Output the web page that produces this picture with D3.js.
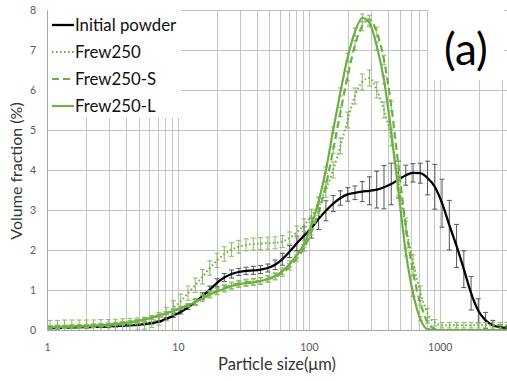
<!DOCTYPE html>
<html>
<head>
<meta charset="utf-8">
<script src="https://cdn.jsdelivr.net/npm/d3@7"></script>
<style>
  html, body { margin: 0; padding: 0; background: #fff; }
  svg { display: block; font-family: Lato, "Open Sans", sans-serif; }
</style>
</head>
<body>
<svg id="chart" width="507" height="381"></svg>
<script>
// Particle size bins (µm, geometric bin centres)
const sizes = [0.930, 1.056, 1.200, 1.363, 1.548, 1.759, 1.998, 2.271, 2.580, 2.931, 3.331, 3.784, 4.300, 4.885, 5.550, 6.306, 7.165, 8.140, 9.250, 10.51, 11.94, 13.56, 15.41, 17.51, 19.89, 22.60, 25.68, 29.17, 33.15, 37.66, 42.79, 48.62, 55.24, 62.76, 71.30, 81.01, 92.04, 104.6, 118.8, 135.0, 153.4, 174.3, 198.0, 225.0, 255.6, 290.4, 330.0, 374.9, 426.0, 484.0, 549.9, 624.8, 709.9, 806.5, 916.3, 1041, 1183, 1344, 1527, 1735, 1971, 2239, 2544, 2891, 3284];

// Volume fraction (%) and standard deviation per bin
const initialPowder = [0.04, 0.05, 0.05, 0.06, 0.06, 0.07, 0.07, 0.08, 0.08, 0.09, 0.10,
  0.11, 0.12, 0.13, 0.15, 0.17, 0.21, 0.28, 0.36, 0.45, 0.57,
  0.70, 0.85, 1.01, 1.18, 1.31, 1.40, 1.45, 1.48, 1.49, 1.51,
  1.55, 1.63, 1.77, 1.96, 2.17, 2.36, 2.55, 2.78, 2.98, 3.16,
  3.30, 3.39, 3.43, 3.46, 3.48, 3.51, 3.57, 3.65, 3.76, 3.87,
  3.93, 3.92, 3.80, 3.58, 3.17, 2.62, 2.10, 1.52, 0.92, 0.48,
  0.24, 0.12, 0.07, 0.05];
const initialPowderErr = [0.02, 0.02, 0.02, 0.02, 0.02, 0.02, 0.02, 0.02, 0.02, 0.02, 0.02,
  0.02, 0.02, 0.02, 0.02, 0.02, 0.02, 0.03, 0.04, 0.05, 0.06,
  0.07, 0.08, 0.09, 0.10, 0.10, 0.10, 0.09, 0.09, 0.10, 0.10,
  0.10, 0.12, 0.15, 0.15, 0.18, 0.22, 0.25, 0.27, 0.25, 0.20,
  0.18, 0.17, 0.17, 0.25, 0.35, 0.46, 0.54, 0.52, 0.46, 0.25,
  0.23, 0.25, 0.42, 0.56, 0.60, 0.62, 0.54, 0.46, 0.42, 0.30,
  0.20, 0.12, 0.06, 0.04];

const frew250 = [0.09, 0.09, 0.09, 0.10, 0.10, 0.10, 0.10, 0.10, 0.11, 0.11, 0.12,
  0.13, 0.14, 0.15, 0.17, 0.21, 0.28, 0.40, 0.55, 0.72, 0.92,
  1.12, 1.33, 1.55, 1.74, 1.90, 2.01, 2.08, 2.13, 2.15, 2.16,
  2.17, 2.18, 2.21, 2.30, 2.45, 2.62, 2.85, 3.15, 3.52, 4.00,
  4.60, 5.25, 5.85, 6.20, 6.30, 6.00, 5.50, 4.80, 3.70, 2.60,
  1.70, 0.95, 0.42, 0.18, 0.12, 0.12, 0.12, 0.12, 0.12, 0.12,
  0.12, 0.12, 0.12, 0.12];
const frew250Err = [0.15, 0.15, 0.15, 0.15, 0.15, 0.15, 0.15, 0.15, 0.15, 0.15, 0.15,
  0.15, 0.15, 0.15, 0.15, 0.15, 0.16, 0.17, 0.18, 0.18, 0.18,
  0.18, 0.18, 0.18, 0.18, 0.18, 0.17, 0.16, 0.15, 0.15, 0.15,
  0.15, 0.15, 0.15, 0.15, 0.15, 0.16, 0.17, 0.18, 0.20, 0.20,
  0.20, 0.20, 0.20, 0.20, 0.20, 0.20, 0.20, 0.20, 0.20, 0.20,
  0.18, 0.15, 0.12, 0.08, 0.07, 0.07, 0.07, 0.07, 0.07, 0.07,
  0.07, 0.07, 0.07, 0.07];

const frew250S = [0.06, 0.07, 0.08, 0.08, 0.09, 0.09, 0.10, 0.11, 0.12, 0.13, 0.15,
  0.17, 0.19, 0.22, 0.26, 0.31, 0.36, 0.42, 0.48, 0.55, 0.62,
  0.70, 0.80, 0.90, 0.98, 1.06, 1.12, 1.16, 1.19, 1.21, 1.23,
  1.27, 1.33, 1.42, 1.58, 1.80, 2.05, 2.45, 2.95, 3.62, 4.50,
  5.45, 6.35, 7.12, 7.60, 7.75, 7.45, 6.75, 5.60, 4.10, 2.60,
  1.45, 0.68, 0.20, 0.03, 0, 0, 0, 0, 0, 0,
  0, 0, 0, 0];
const frew250SErr = [0.04, 0.04, 0.04, 0.04, 0.04, 0.04, 0.04, 0.04, 0.04, 0.04, 0.04,
  0.04, 0.04, 0.04, 0.04, 0.04, 0.04, 0.04, 0.04, 0.04, 0.04,
  0.08, 0.08, 0.08, 0.08, 0.08, 0.08, 0.08, 0.08, 0.08, 0.08,
  0.08, 0.08, 0.08, 0.08, 0.08, 0.08, 0.08, 0.08, 0.08, 0.08,
  0.12, 0.12, 0.12, 0.12, 0.12, 0.12, 0.12, 0.12, 0.12, 0.12,
  0.10, 0.06, 0.03, 0, 0, 0, 0, 0, 0, 0,
  0, 0, 0, 0];

const frew250L = [0.06, 0.07, 0.08, 0.08, 0.09, 0.09, 0.10, 0.11, 0.12, 0.13, 0.15,
  0.17, 0.19, 0.22, 0.26, 0.31, 0.36, 0.42, 0.48, 0.55, 0.62,
  0.70, 0.79, 0.88, 0.96, 1.03, 1.10, 1.14, 1.17, 1.19, 1.22,
  1.28, 1.35, 1.47, 1.65, 1.88, 2.15, 2.62, 3.22, 4.00, 5.00,
  5.95, 6.82, 7.45, 7.80, 7.68, 7.10, 6.25, 4.95, 3.45, 1.95,
  0.92, 0.28, 0.02, 0, 0, 0, 0, 0, 0, 0,
  0, 0, 0, 0];
const frew250LErr = [0.04, 0.04, 0.04, 0.04, 0.04, 0.04, 0.04, 0.04, 0.04, 0.04, 0.04,
  0.04, 0.04, 0.04, 0.04, 0.04, 0.04, 0.04, 0.04, 0.04, 0.04,
  0.08, 0.08, 0.08, 0.08, 0.08, 0.08, 0.08, 0.08, 0.08, 0.08,
  0.08, 0.08, 0.08, 0.08, 0.08, 0.08, 0.08, 0.08, 0.08, 0.08,
  0.10, 0.10, 0.10, 0.10, 0.10, 0.10, 0.10, 0.10, 0.10, 0.10,
  0.08, 0.05, 0.02, 0, 0, 0, 0, 0, 0, 0,
  0, 0, 0, 0];

const seriesNames = ["Initial powder", "Frew250", "Frew250-S", "Frew250-L"];
const xTickLabels = [1, 10, 100, 1000];
const yTickLabels = [0, 1, 2, 3, 4, 5, 6, 7, 8];
const panelLabel = "(a)";

const GREEN = "#70ad47";
const series = [
  { name: seriesNames[0], values: initialPowder, err: initialPowderErr, color: "#000", width: 2.3, dash: null, errColor: "#555" },
  { name: seriesNames[1], values: frew250, err: frew250Err, color: GREEN, width: 2, dash: "1.6,2.4", errColor: "#86bd62" },
  { name: seriesNames[2], values: frew250S, err: frew250SErr, color: GREEN, width: 2.2, dash: "7,4", errColor: "#86bd62" },
  { name: seriesNames[3], values: frew250L, err: frew250LErr, color: GREEN, width: 2.2, dash: null, errColor: "#86bd62" }
];

const svg = d3.select("#chart");
const x = d3.scaleLog().domain([1, 3500]).range([47, 511]);
const y = d3.scaleLinear().domain([0, 8]).range([330, 10]);
const [x0, x1] = x.range();
const [yb, yt] = y.range();

// Grid lines: every log minor tick vertically, every unit horizontally
const grid = svg.append("g").attr("stroke", "#c4c4c4").attr("stroke-width", 1);
grid.selectAll("line.v").data(x.ticks()).join("line")
  .attr("x1", d => Math.round(x(d)) + 0.5).attr("x2", d => Math.round(x(d)) + 0.5)
  .attr("y1", yt).attr("y2", yb);
grid.selectAll("line.h").data(yTickLabels).join("line")
  .attr("x1", x0).attr("x2", 507)
  .attr("y1", d => Math.round(y(d)) + 0.5).attr("y2", d => Math.round(y(d)) + 0.5);

// Data layer, clipped to the plot area
svg.append("clipPath").attr("id", "plotClip")
  .append("rect").attr("x", x0).attr("y", yt - 2).attr("width", x1 - x0).attr("height", yb - yt + 3);
const plot = svg.append("g").attr("clip-path", "url(#plotClip)");

const line = d3.line()
  .x((d, i) => x(sizes[i]))
  .y(d => y(d))
  .curve(d3.curveMonotoneX);

series.forEach(s => {
  const g = plot.append("g");
  const bars = sizes.map((sz, i) => ({ sz, v: s.values[i], e: s.err[i] })).filter(d => d.e > 0);
  const eb = g.append("g").attr("stroke", s.errColor).attr("stroke-width", 1).attr("fill", "none");
  eb.selectAll("path").data(bars).join("path")
    .attr("d", d => {
      const px = x(d.sz), top = y(d.v + d.e), bot = y(d.v - d.e), c = 2.5;
      return `M${px},${top}V${bot}M${px - c},${top}H${px + c}M${px - c},${bot}H${px + c}`;
    });
  g.append("path").datum(s.values)
    .attr("d", line)
    .attr("fill", "none")
    .attr("stroke", s.color)
    .attr("stroke-width", s.width)
    .attr("stroke-dasharray", s.dash)
    .attr("stroke-linejoin", "round");
});

// Axes
const xAxis = svg.append("g").attr("transform", `translate(0,${yb})`)
  .call(d3.axisBottom(x).tickValues(xTickLabels).tickFormat(d3.format("d")).tickSize(0).tickPadding(14));
const yAxis = svg.append("g").attr("transform", `translate(${x0},0)`)
  .call(d3.axisLeft(y).tickValues(yTickLabels).tickSize(0).tickPadding(11));
[xAxis, yAxis].forEach(a => {
  a.select(".domain").attr("stroke", "#a6a6a6");
  a.selectAll("text").attr("fill", "#595959").attr("font-size", 10.5).attr("font-family", "Lato, sans-serif");
});

// Axis titles
svg.append("text")
  .attr("x", 277).attr("y", 370)
  .attr("text-anchor", "middle")
  .attr("font-size", 16.5).attr("fill", "#333")
  .text("Particle size(μm)");
svg.append("text")
  .attr("transform", "translate(22,171) rotate(-90)")
  .attr("text-anchor", "middle")
  .attr("font-size", 16).attr("fill", "#333")
  .text("Volume fraction (%)");

// Legend
const legend = svg.append("g");
legend.append("rect").attr("x", x0 + 1).attr("y", yt - 1).attr("width", 133).attr("height", 109).attr("fill", "#fff");
const rows = legend.selectAll("g.row").data(series).join("g")
  .attr("transform", (d, i) => `translate(0,${25 + i * 27})`);
rows.append("line")
  .attr("x1", 52).attr("x2", 74).attr("y1", 0).attr("y2", 0)
  .attr("stroke", d => d.color).attr("stroke-width", d => d.width)
  .attr("stroke-dasharray", d => d.dash);
rows.append("text")
  .attr("x", 75).attr("y", 0).attr("dy", "0.35em")
  .attr("font-size", 16.8).attr("fill", "#111")
  .text(d => d.name);

// Panel label
const panel = svg.append("g");
panel.append("rect").attr("x", 428).attr("y", 8).attr("width", 76).attr("height", 72).attr("fill", "#fff");
panel.append("text")
  .attr("x", 466).attr("y", 65)
  .attr("text-anchor", "middle")
  .attr("font-size", 44).attr("fill", "#000")
  .text(panelLabel);
</script>
</body>
</html>
